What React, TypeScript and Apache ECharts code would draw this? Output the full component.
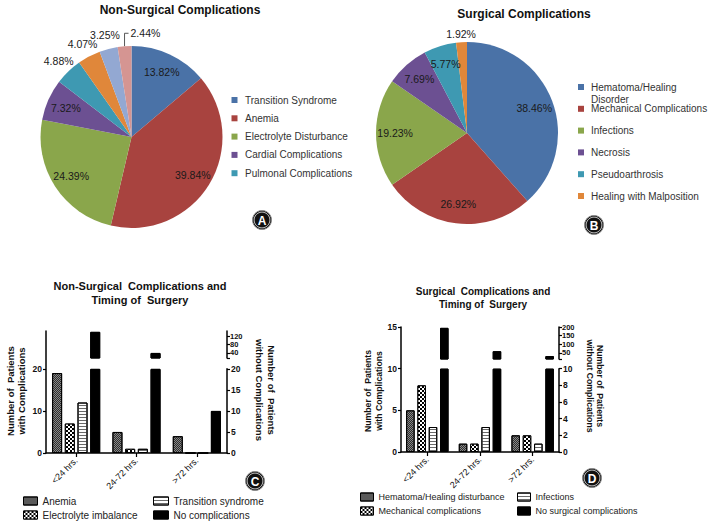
import React, { useEffect, useRef } from 'react';
import * as echarts from 'echarts';

const FONT = '"Liberation Sans", Arial, Helvetica, sans-serif';

// ---------- Panel A: non-surgical complications (pie) ----------
const nonSurgicalNames = [
  'Transition Syndrome',
  'Anemia',
  'Electrolyte Disturbance',
  'Cardial Complications',
  'Pulmonal Complications',
  'Other non-surgical (a)',
  'Other non-surgical (b)',
  'Other non-surgical (c)',
];
const nonSurgicalValues = [13.82, 39.84, 24.39, 7.32, 4.88, 4.07, 3.25, 2.44];
const nonSurgicalColors = ['#4a72a7', '#a8433f', '#8aa64b', '#6c5092', '#3e99b2', '#e0873a', '#93a8d2', '#d59592'];
const nonSurgicalLegendCount = 5;

// ---------- Panel B: surgical complications (pie) ----------
const surgicalNames = [
  'Hematoma/Healing Disorder',
  'Mechanical Complications',
  'Infections',
  'Necrosis',
  'Pseudoarthrosis',
  'Healing with Malposition',
];
const surgicalLegendLabels = [
  'Hematoma/Healing\nDisorder',
  'Mechanical Complications',
  'Infections',
  'Necrosis',
  'Pseudoarthrosis',
  'Healing with Malposition',
];
const surgicalValues = [38.46, 26.92, 19.23, 7.69, 5.77, 1.92];
const surgicalColors = ['#4a72a7', '#a8433f', '#8aa64b', '#6c5092', '#3e99b2', '#e0873a'];

// ---------- Panels C & D: timing of surgery (bars) ----------
const timingCategories = ['<24 hrs.', '24-72 hrs.', '>72 hrs.'];

const nsAnemia = [19, 5, 4];
const nsElectrolyte = [7, 1, 0];
const nsTransition = [12, 1, 0];
const nsNoComplications = [140, 40, 10];
const nsBreakValue = 20;
const nsLeftTicks = [0, 10, 20];
const nsRightLowTicks = [0, 5, 10, 15, 20];
const nsRightHighTicks = [40, 80, 120];

const sHematoma = [5, 1, 2];
const sMechanical = [8, 1, 2];
const sInfections = [3, 3, 1];
const sNoComplications = [195, 60, 32];
const sBreakValue = 10;
const sLeftTicks = [0, 5, 10, 15];
const sRightLowTicks = [0, 2, 4, 6, 8, 10];
const sRightHighTicks = [50, 100, 150, 200];

// ---------- pattern (decal) styles ----------
const hatchDecal = {
  symbol: 'rect', symbolSize: 1, symbolKeepAspect: false, rotation: 0,
  color: '#2e2e2e', backgroundColor: '#c4c4c4',
  dashArrayX: [[1, 1], [0, 1, 1, 0]], dashArrayY: [1, 0],
};
const checkerDecal = {
  symbol: 'rect', symbolSize: 1, symbolKeepAspect: false, rotation: 0,
  color: '#ffffff', backgroundColor: '#000000',
  dashArrayX: [[2, 2], [0, 2, 2, 0]], dashArrayY: [2, 0],
};
const stripeDecal = {
  symbol: 'rect', symbolSize: 1, symbolKeepAspect: false, rotation: 0,
  color: '#6a6a6a', backgroundColor: '#ffffff',
  dashArrayX: [1, 0], dashArrayY: [1, 2],
};
const solidDecal = {
  symbol: 'rect', symbolSize: 1, symbolKeepAspect: false, rotation: 0,
  color: 'rgba(0,0,0,0)', backgroundColor: 'rgba(0,0,0,0)',
  dashArrayX: [1, 0], dashArrayY: [1, 0],
};

// ---------- helpers ----------
function sliceMidAngles(values: number[]) {
  const total = values.reduce((a, b) => a + b, 0);
  let cum = 0;
  return values.map((v) => {
    const mid = ((cum + v / 2) / total) * Math.PI * 2;
    cum += v;
    return mid;
  });
}
function pointAt(cx: number, cy: number, rad: number, ang: number) {
  return [cx + rad * Math.sin(ang), cy - rad * Math.cos(ang)];
}

type PieGeo = { cx: number; cy: number; r: number; insideCount: number; bracketIndex: number; inFactor: number; outOffset: number };
const pieGeoA: PieGeo = { cx: 131.5, cy: 137, r: 91, insideCount: 4, bracketIndex: 7, inFactor: 0.79, outOffset: 14 };
const pieGeoB: PieGeo = { cx: 467, cy: 133, r: 91, insideCount: 5, bracketIndex: -1, inFactor: 0.79, outOffset: 8 };

function makePieLabelLayout(values: number[], geo: PieGeo) {
  const mids = sliceMidAngles(values);
  return (params: any) => {
    const i = params.dataIndex;
    const a = mids[i];
    if (i === geo.bracketIndex) {
      const [bx, by] = pointAt(geo.cx, geo.cy, geo.r, a);
      return { x: bx + 6, y: by - 13, align: 'left', verticalAlign: 'middle' };
    }
    const rad = i < geo.insideCount ? geo.r * geo.inFactor : geo.r + geo.outOffset;
    const [x, y] = pointAt(geo.cx, geo.cy, rad, a);
    return { x, y, align: 'center', verticalAlign: 'middle' };
  };
}

function bracketGraphic(values: number[], geo: PieGeo) {
  if (geo.bracketIndex < 0) return [];
  const a = sliceMidAngles(values)[geo.bracketIndex];
  const [bx, by] = pointAt(geo.cx, geo.cy, geo.r, a);
  return [{
    type: 'polyline',
    shape: { points: [[bx, by], [bx, by - 13], [bx + 4, by - 13]] },
    style: { stroke: '#444', lineWidth: 0.9, fill: 'none' },
    silent: true,
  }];
}

function textEl(x: number, y: number, text: string, opts: any = {}) {
  const { rotation = 0, fontSize = 10, fontWeight = 'normal', fill = '#111', align = 'center', vAlign = 'middle', lineHeight } = opts;
  const style: any = {
    text, fill, fontSize, fontWeight, fontFamily: FONT,
    textAlign: align, textVerticalAlign: vAlign, align, verticalAlign: vAlign,
  };
  if (lineHeight) style.lineHeight = lineHeight;
  return { type: 'text', x, y, rotation, style, silent: true };
}

function circleLetter(x: number, y: number, letter: string) {
  return [
    { type: 'circle', shape: { cx: x, cy: y, r: 9.5 }, style: { fill: '#111', stroke: '#8a8a8a', lineWidth: 1 }, silent: true },
    { type: 'circle', shape: { cx: x, cy: y, r: 7.9 }, style: { fill: 'none', stroke: '#e8e8e8', lineWidth: 0.8 }, silent: true },
    textEl(x, y + 0.5, letter, { fontSize: 12, fontWeight: 'bold', fill: '#ffffff' }),
  ];
}

function pieSeries(names: string[], values: number[], colors: string[], geo: PieGeo) {
  return {
    type: 'pie',
    center: [geo.cx, geo.cy],
    radius: geo.r,
    startAngle: 90,
    clockwise: true,
    avoidLabelOverlap: false,
    silent: true,
    data: names.map((n, i) => ({ name: n, value: values[i], itemStyle: { color: colors[i] } })),
    itemStyle: { borderWidth: 0 },
    label: {
      show: true,
      position: 'outside',
      formatter: (p: any) => `${Number(p.value).toFixed(2)}%`,
      fontSize: 10.5,
      fontFamily: FONT,
      color: '#1a1a1a',
    },
    labelLine: { show: false },
    labelLayout: makePieLabelLayout(values, geo),
  };
}

function buildPieOption() {
  const graphic: any[] = [];
  graphic.push(textEl(180, 10, 'Non-Surgical Complications', { fontSize: 12, fontWeight: 'bold' }));
  graphic.push(textEl(524, 14, 'Surgical Complications', { fontSize: 12, fontWeight: 'bold' }));
  // legend A
  for (let i = 0; i < nonSurgicalLegendCount; i++) {
    const y = 100 + i * 18.3;
    graphic.push({ type: 'rect', shape: { x: 231.5, y: y - 3, width: 6, height: 6 }, style: { fill: nonSurgicalColors[i] }, silent: true });
    graphic.push(textEl(245, y, nonSurgicalNames[i], { fontSize: 10, fill: '#333', align: 'left' }));
  }
  // legend B
  for (let i = 0; i < surgicalLegendLabels.length; i++) {
    const y = 87 + i * 21.8;
    graphic.push({ type: 'rect', shape: { x: 578, y: y - 3, width: 6, height: 6 }, style: { fill: surgicalColors[i] }, silent: true });
    graphic.push(textEl(591, y - 6, surgicalLegendLabels[i], { fontSize: 10, fill: '#333', align: 'left', vAlign: 'top', lineHeight: 12 }));
  }
  graphic.push(...bracketGraphic(nonSurgicalValues, pieGeoA));
  graphic.push(...circleLetter(262, 220, 'A'));
  graphic.push(...circleLetter(594, 225, 'B'));
  return {
    animation: false,
    textStyle: { fontFamily: FONT },
    series: [
      pieSeries(nonSurgicalNames, nonSurgicalValues, nonSurgicalColors, pieGeoA),
      pieSeries(surgicalNames, surgicalValues, surgicalColors, pieGeoB),
    ],
    graphic,
  };
}

// ---------- bar panels ----------
type BarCfg = {
  left: number; width: number; top: number; bottom: number; highBottom: number;
  leftMax: number; highMin: number; highMax: number; brk: number;
  barWidth: number; barGap: string;
  leftTicks: number[]; lowTicks: number[]; highTicks: number[];
};

const axisLineStyle = { show: true, lineStyle: { color: '#000', width: 1.5 } };
const axisLabelBase = {
  color: '#111', fontSize: 8.5, fontWeight: 'bold', fontFamily: FONT, margin: 4,
  hideOverlap: false, showMinLabel: true, showMaxLabel: true,
};

function buildBarPanel(p: number, cfg: BarCfg, groups: { name: string; values: number[]; color: string; decal: any }[], none: { name: string; values: number[] }) {
  const scale = (cfg.bottom - cfg.top) / cfg.leftMax;
  const lowTop = cfg.bottom - cfg.brk * scale;
  const g0 = p * 3;
  const grids = [
    { left: cfg.left, top: cfg.top, width: cfg.width, height: cfg.bottom - cfg.top, containLabel: false, outerBoundsMode: 'none' },
    { left: cfg.left, top: lowTop, width: cfg.width, height: cfg.bottom - lowTop, containLabel: false, outerBoundsMode: 'none' },
    { left: cfg.left, top: cfg.top, width: cfg.width, height: cfg.highBottom - cfg.top, containLabel: false, outerBoundsMode: 'none' },
  ];
  const xAxes = [
    {
      gridIndex: g0, type: 'category', data: timingCategories,
      axisLine: axisLineStyle,
      axisTick: { show: true, alignWithLabel: true, length: 4, lineStyle: { color: '#000', width: 1.2 } },
      axisLabel: { rotate: 45, fontSize: 9, color: '#111', fontFamily: FONT, margin: 6, interval: 0 },
      splitLine: { show: false },
    },
    { gridIndex: g0 + 1, type: 'category', data: timingCategories, show: false },
    { gridIndex: g0 + 2, type: 'category', data: timingCategories, show: false },
  ];
  const yAxes = [
    {
      gridIndex: g0, type: 'value', position: 'left', min: 0, max: cfg.leftMax,
      axisLine: axisLineStyle,
      axisTick: { show: true, length: 3, customValues: cfg.leftTicks, lineStyle: { color: '#000', width: 1.2 } },
      axisLabel: { ...axisLabelBase, customValues: cfg.leftTicks },
      splitLine: { show: false },
    },
    {
      gridIndex: g0 + 1, type: 'value', position: 'right', min: 0, max: cfg.brk,
      axisLine: axisLineStyle,
      axisTick: { show: true, length: 3, customValues: cfg.lowTicks, lineStyle: { color: '#000', width: 1.2 } },
      axisLabel: { ...axisLabelBase, customValues: cfg.lowTicks },
      splitLine: { show: false },
    },
    {
      gridIndex: g0 + 2, type: 'value', position: 'right', min: cfg.highMin, max: cfg.highMax,
      axisLine: axisLineStyle,
      axisTick: { show: true, length: 3, customValues: [cfg.highMin, ...cfg.highTicks], lineStyle: { color: '#000', width: 1.2 } },
      axisLabel: { ...axisLabelBase, fontSize: 7.5, lineHeight: 8, margin: 3, customValues: cfg.highTicks },
      splitLine: { show: false },
    },
  ];
  const mk = (name: string, data: any[], color: string, decal: any, axisOffset: number) => ({
    type: 'bar', name, data,
    xAxisIndex: g0 + axisOffset, yAxisIndex: g0 + axisOffset,
    barWidth: cfg.barWidth, barGap: cfg.barGap,
    itemStyle: { color, borderColor: '#000', borderWidth: 1, decal },
    silent: true,
  });
  const series: any[] = [];
  groups.forEach((gr) => series.push(mk(gr.name, gr.values, gr.color, gr.decal, 0)));
  series.push(mk(none.name, none.values.map((v) => Math.min(v, cfg.brk)), '#000', solidDecal, 0));
  groups.forEach((gr) => series.push(mk(gr.name, gr.values.map(() => null), gr.color, gr.decal, 2)));
  series.push(mk(none.name, none.values.map((v) => (v > cfg.brk ? v : null)), '#000', solidDecal, 2));
  return { grids, xAxes, yAxes, series };
}

const cfgC: BarCfg = {
  left: 46, width: 181, top: 331, bottom: 453, highBottom: 358,
  leftMax: 29, highMin: 16, highMax: 144, brk: nsBreakValue,
  barWidth: 10, barGap: '27%',
  leftTicks: nsLeftTicks, lowTicks: nsRightLowTicks, highTicks: nsRightHighTicks,
};
const cfgD: BarCfg = {
  left: 401, width: 158, top: 327, bottom: 452, highBottom: 359,
  leftMax: 15, highMin: 15, highMax: 200, brk: sBreakValue,
  barWidth: 8.5, barGap: '33%',
  leftTicks: sLeftTicks, lowTicks: sRightLowTicks, highTicks: sRightHighTicks,
};

function legendCol(names: string[], left: number, top: number, fontSize: number, itemWidth: number) {
  return {
    data: names, left, top, orient: 'vertical', padding: 0, itemGap: 2,
    itemWidth, itemHeight: 8, icon: 'rect', selectedMode: false,
    itemStyle: { borderColor: '#000', borderWidth: 1 },
    textStyle: { fontSize, lineHeight: 12, color: '#222', fontFamily: FONT },
  };
}

function buildBarOption() {
  const c = buildBarPanel(0, cfgC, [
    { name: 'Anemia', values: nsAnemia, color: '#888', decal: hatchDecal },
    { name: 'Electrolyte imbalance', values: nsElectrolyte, color: '#000', decal: checkerDecal },
    { name: 'Transition syndrome', values: nsTransition, color: '#fff', decal: stripeDecal },
  ], { name: 'No complications', values: nsNoComplications });
  const d = buildBarPanel(1, cfgD, [
    { name: 'Hematoma/Healing disturbance', values: sHematoma, color: '#888', decal: hatchDecal },
    { name: 'Mechanical complications', values: sMechanical, color: '#000', decal: checkerDecal },
    { name: 'Infections', values: sInfections, color: '#fff', decal: stripeDecal },
  ], { name: 'No surgical complications', values: sNoComplications });

  const graphic: any[] = [
    textEl(140, 293, 'Non-Surgical  Complications and\nTiming of  Surgery', { fontSize: 11, fontWeight: 'bold', lineHeight: 14 }),
    textEl(483, 298, 'Surgical  Complications and\nTiming of  Surgery', { fontSize: 10, fontWeight: 'bold', lineHeight: 12.5 }),
    textEl(16, 391, 'Number of  Patients\nwith Complications', { fontSize: 9.5, fontWeight: 'bold', lineHeight: 11, rotation: Math.PI / 2 }),
    textEl(265, 390, 'Number of  Patients\nwithout Complications', { fontSize: 9.5, fontWeight: 'bold', lineHeight: 12, rotation: -Math.PI / 2 }),
    textEl(373.5, 391, 'Number of  Patients\nwith Complications', { fontSize: 8.7, fontWeight: 'bold', lineHeight: 11, rotation: Math.PI / 2 }),
    textEl(595, 386, 'Number of  Patients\nwithout Complications', { fontSize: 8.7, fontWeight: 'bold', lineHeight: 10.5, rotation: -Math.PI / 2 }),
    ...circleLetter(255, 481, 'C'),
    ...circleLetter(592, 478, 'D'),
  ];

  return {
    animation: false,
    textStyle: { fontFamily: FONT },
    aria: { enabled: true, label: { enabled: false }, decal: { show: true } },
    grid: [...c.grids, ...d.grids],
    xAxis: [...c.xAxes, ...d.xAxes],
    yAxis: [...c.yAxes, ...d.yAxes],
    series: [...c.series, ...d.series],
    legend: [
      legendCol(['Anemia', 'Electrolyte imbalance'], 23, 495, 10, 14),
      legendCol(['Transition syndrome', 'No complications'], 153, 495, 10, 15),
      legendCol(['Hematoma/Healing disturbance', 'Mechanical complications'], 360, 491, 9, 13),
      legendCol(['Infections', 'No surgical complications'], 517, 491, 9, 13),
    ],
    graphic,
  };
}

export default function App() {
  const topRef = useRef<HTMLDivElement>(null);
  const botRef = useRef<HTMLDivElement>(null);
  useEffect(() => {
    const c1 = echarts.init(topRef.current as HTMLDivElement, null, { renderer: 'svg' });
    c1.setOption(buildPieOption() as any);
    const c2 = echarts.init(botRef.current as HTMLDivElement, null, { renderer: 'svg' });
    c2.setOption(buildBarOption() as any);
    return () => {
      c1.dispose();
      c2.dispose();
    };
  }, []);
  return (
    <div style={{ position: 'absolute', left: 0, top: 0, width: 709, height: 521, background: '#ffffff' }}>
      <div ref={topRef} style={{ position: 'absolute', left: 0, top: 0, width: 709, height: 521 }} />
      <div ref={botRef} style={{ position: 'absolute', left: 0, top: 0, width: 709, height: 521 }} />
    </div>
  );
}
